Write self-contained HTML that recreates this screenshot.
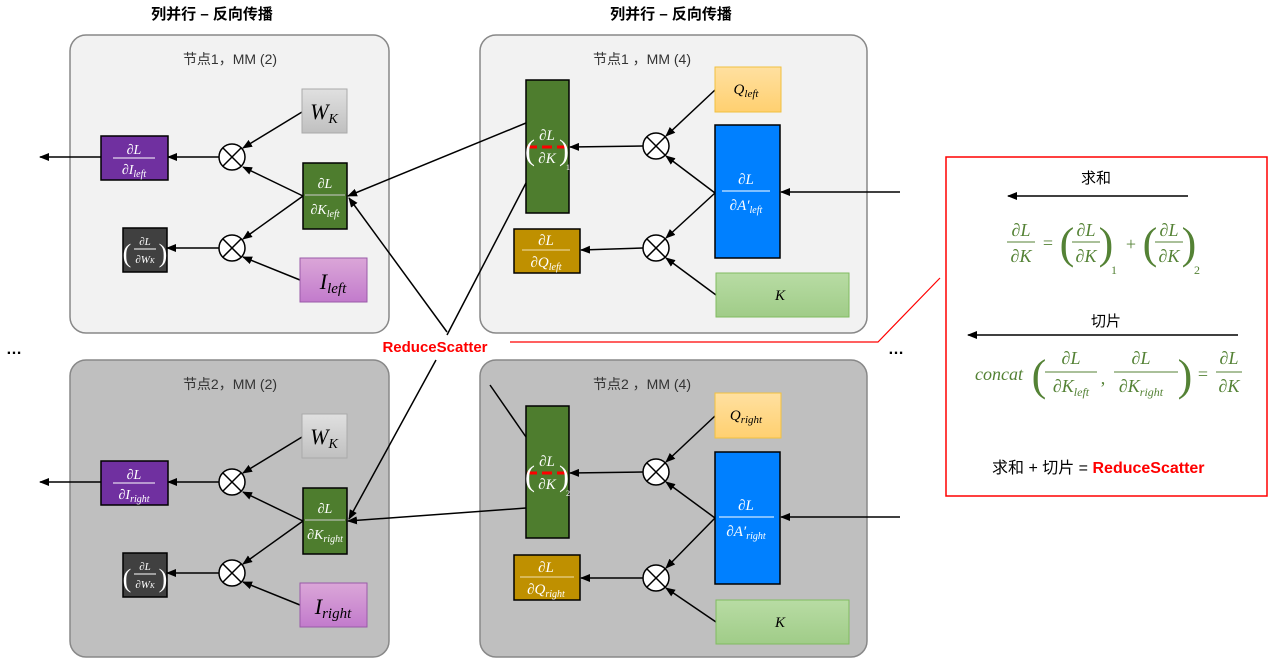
<!DOCTYPE html>
<html><head><meta charset="utf-8"><style>
body{margin:0;background:#fff}
svg{display:block}
.t{font-family:"Liberation Sans","Noto Sans CJK SC",sans-serif}
.m{font-family:"Liberation Serif",serif;font-style:italic}
</style></head><body>
<svg width="1271" height="662" viewBox="0 0 1271 662" xmlns="http://www.w3.org/2000/svg">
<defs>
<marker id="a" markerWidth="10" markerHeight="8" refX="9" refY="4" orient="auto" markerUnits="userSpaceOnUse"><path d="M0,0 L10,4 L0,8z" fill="#000"/></marker>
<linearGradient id="gw" x1="0" y1="0" x2="0" y2="1"><stop offset="0" stop-color="#e0e0e0"/><stop offset="1" stop-color="#c0c0c0"/></linearGradient>
<linearGradient id="gi" x1="0" y1="0" x2="0" y2="1"><stop offset="0" stop-color="#dba6d8"/><stop offset="1" stop-color="#c27bcc"/></linearGradient>
<linearGradient id="gq" x1="0" y1="0" x2="0" y2="1"><stop offset="0" stop-color="#ffe0a0"/><stop offset="1" stop-color="#ffd070"/></linearGradient>
<linearGradient id="gk" x1="0" y1="0" x2="0" y2="1"><stop offset="0" stop-color="#b8dca4"/><stop offset="1" stop-color="#a0cc88"/></linearGradient>
<g id="x"><circle r="13" fill="#fff" stroke="#000" stroke-width="1.5"/><path d="M-9,-9L9,9M9,-9L-9,9" stroke="#000" stroke-width="1.5"/></g>
</defs>

<text class="t" x="212" y="19" font-size="15" font-weight="bold" text-anchor="middle">列并行 – 反向传播</text>
<text class="t" x="671" y="19" font-size="15" font-weight="bold" text-anchor="middle">列并行 – 反向传播</text>

<rect x="70" y="35" width="319" height="298" rx="16" fill="#f2f2f2" stroke="#888" stroke-width="1.5"/>
<rect x="480" y="35" width="387" height="298" rx="16" fill="#f2f2f2" stroke="#888" stroke-width="1.5"/>
<rect x="70" y="360" width="319" height="297" rx="16" fill="#bfbfbf" stroke="#888" stroke-width="1.5"/>
<rect x="480" y="360" width="387" height="297" rx="16" fill="#bfbfbf" stroke="#888" stroke-width="1.5"/>
<text class="t" x="230" y="64" font-size="14" text-anchor="middle" fill="#333">节点1，MM (2)</text>
<text class="t" x="642" y="64" font-size="14" text-anchor="middle" fill="#333">节点1 ，MM (4)</text>
<text class="t" x="230" y="389" font-size="14" text-anchor="middle" fill="#333">节点2，MM (2)</text>
<text class="t" x="642" y="389" font-size="14" text-anchor="middle" fill="#333">节点2 ，MM (4)</text>

<g stroke="#000" stroke-width="1.5" fill="none">
<line x1="101" y1="157" x2="40" y2="157" marker-end="url(#a)"/>
<line x1="219" y1="157" x2="168" y2="157" marker-end="url(#a)"/>
<line x1="219" y1="248" x2="167" y2="248" marker-end="url(#a)"/>
<line x1="302" y1="112" x2="243" y2="148" marker-end="url(#a)"/>
<line x1="303" y1="196" x2="243" y2="167" marker-end="url(#a)"/>
<line x1="303" y1="196" x2="243" y2="239" marker-end="url(#a)"/>
<line x1="300" y1="280" x2="243" y2="257" marker-end="url(#a)"/>
<line x1="101" y1="482" x2="40" y2="482" marker-end="url(#a)"/>
<line x1="219" y1="482" x2="168" y2="482" marker-end="url(#a)"/>
<line x1="219" y1="573" x2="167" y2="573" marker-end="url(#a)"/>
<line x1="302" y1="437" x2="243" y2="473" marker-end="url(#a)"/>
<line x1="303" y1="521" x2="243" y2="492" marker-end="url(#a)"/>
<line x1="303" y1="521" x2="243" y2="564" marker-end="url(#a)"/>
<line x1="300" y1="605" x2="243" y2="582" marker-end="url(#a)"/>
</g>
<use href="#x" x="232" y="157"/><use href="#x" x="232" y="248"/>
<use href="#x" x="232" y="482"/><use href="#x" x="232" y="573"/>

<g stroke="#000" stroke-width="1.5">
<rect x="101" y="136" width="67" height="44" fill="#7030a0"/>
<rect x="123" y="228" width="44" height="44" fill="#404040"/>
<rect x="303" y="163" width="44" height="66" fill="#4e7d2e"/>
<rect x="101" y="461" width="67" height="44" fill="#7030a0"/>
<rect x="123" y="553" width="44" height="44" fill="#404040"/>
<rect x="303" y="488" width="44" height="66" fill="#4e7d2e"/>
</g>
<rect x="302" y="89" width="45" height="44" fill="url(#gw)" stroke="#aaa"/>
<rect x="300" y="258" width="67" height="44" fill="url(#gi)" stroke="#9a5aa8"/>
<rect x="302" y="414" width="45" height="44" fill="url(#gw)" stroke="#aaa"/>
<rect x="300" y="583" width="67" height="44" fill="url(#gi)" stroke="#9a5aa8"/>

<g class="m" fill="#fff" text-anchor="middle" font-size="14">
<text x="134" y="154">∂L</text><line x1="113" y1="158" x2="155" y2="158" stroke="#fff"/><text x="134" y="174">∂I<tspan font-size="10" dy="3">left</tspan></text>
<text x="134" y="479">∂L</text><line x1="113" y1="483" x2="155" y2="483" stroke="#fff"/><text x="134" y="499">∂I<tspan font-size="10" dy="3">right</tspan></text>
<text x="325" y="188">∂L</text><line x1="305" y1="195" x2="345" y2="195" stroke="#ccc"/><text x="325" y="214">∂K<tspan font-size="10" dy="3">left</tspan></text>
<text x="325" y="513">∂L</text><line x1="305" y1="520" x2="345" y2="520" stroke="#ccc"/><text x="325" y="539">∂K<tspan font-size="10" dy="3">right</tspan></text>
<g font-size="11"><text x="145" y="245">∂L</text><line x1="134" y1="249" x2="156" y2="249" stroke="#fff"/><text x="145" y="263">∂W<tspan font-size="7">K</tspan></text>
<text x="145" y="570">∂L</text><line x1="134" y1="574" x2="156" y2="574" stroke="#fff"/><text x="145" y="588">∂W<tspan font-size="7">K</tspan></text></g>
<text x="127" y="262" font-size="26" font-style="normal">(</text><text x="163" y="262" font-size="26" font-style="normal">)</text>
<text x="127" y="587" font-size="26" font-style="normal">(</text><text x="163" y="587" font-size="26" font-style="normal">)</text>
</g>
<g class="m" text-anchor="middle" fill="#000">
<text x="324" y="119" font-size="22">W<tspan font-size="14" dy="4">K</tspan></text>
<text x="324" y="444" font-size="22">W<tspan font-size="14" dy="4">K</tspan></text>
<text x="333" y="289" font-size="22">I<tspan font-size="15" dy="4">left</tspan></text>
<text x="333" y="614" font-size="22">I<tspan font-size="15" dy="4">right</tspan></text>
</g>

<g stroke="#000" stroke-width="1.5" fill="none">
<line x1="643" y1="146" x2="570" y2="147" marker-end="url(#a)"/>
<line x1="643" y1="248" x2="581" y2="250" marker-end="url(#a)"/>
<line x1="715" y1="90" x2="666" y2="136" marker-end="url(#a)"/>
<line x1="715" y1="193" x2="666" y2="156" marker-end="url(#a)"/>
<line x1="715" y1="193" x2="666" y2="238" marker-end="url(#a)"/>
<line x1="716" y1="295" x2="666" y2="258" marker-end="url(#a)"/>
<line x1="900" y1="192" x2="781" y2="192" marker-end="url(#a)"/>
<line x1="643" y1="472" x2="570" y2="473" marker-end="url(#a)"/>
<line x1="643" y1="578" x2="581" y2="578" marker-end="url(#a)"/>
<line x1="715" y1="416" x2="666" y2="462" marker-end="url(#a)"/>
<line x1="715" y1="518" x2="666" y2="482" marker-end="url(#a)"/>
<line x1="715" y1="518" x2="666" y2="568" marker-end="url(#a)"/>
<line x1="716" y1="622" x2="666" y2="588" marker-end="url(#a)"/>
<line x1="900" y1="517" x2="781" y2="517" marker-end="url(#a)"/>
</g>
<use href="#x" x="656" y="146"/><use href="#x" x="656" y="248"/>
<use href="#x" x="656" y="472"/><use href="#x" x="656" y="578"/>
<g stroke="#000" stroke-width="1.5">
<rect x="526" y="80" width="43" height="133" fill="#4e7d2e"/>
<rect x="514" y="229" width="66" height="44" fill="#bf9000"/>
<rect x="715" y="125" width="65" height="133" fill="#0080ff"/>
<rect x="526" y="406" width="43" height="132" fill="#4e7d2e"/>
<rect x="514" y="555" width="66" height="45" fill="#bf9000"/>
<rect x="715" y="452" width="65" height="132" fill="#0080ff"/>
</g>
<rect x="715" y="67" width="66" height="45" fill="url(#gq)" stroke="#f0c040"/>
<rect x="716" y="273" width="133" height="44" fill="url(#gk)" stroke="#80bb60"/>
<rect x="715" y="393" width="66" height="45" fill="url(#gq)" stroke="#f0c040"/>
<rect x="716" y="600" width="133" height="44" fill="url(#gk)" stroke="#80bb60"/>
<line x1="527" y1="147" x2="569" y2="147" stroke="#f00" stroke-width="3" stroke-dasharray="10,5"/>
<line x1="527" y1="473" x2="569" y2="473" stroke="#f00" stroke-width="3" stroke-dasharray="10,5"/>
<g class="m" fill="#fff" text-anchor="middle" font-size="15">
<text x="547" y="140">∂L</text><text x="547" y="163">∂K</text>
<text x="547" y="466">∂L</text><text x="547" y="489">∂K</text>
<text x="530" y="160" font-size="30" font-style="normal">(</text><text x="564" y="160" font-size="30" font-style="normal">)</text>
<text x="530" y="486" font-size="30" font-style="normal">(</text><text x="564" y="486" font-size="30" font-style="normal">)</text>
<text x="568" y="170" font-size="8" font-style="normal">1</text><text x="568" y="496" font-size="8" font-style="normal">2</text>
<text x="546" y="245">∂L</text><line x1="522" y1="250" x2="570" y2="250" stroke="#f0e0b0"/><text x="546" y="267">∂Q<tspan font-size="10" dy="3">left</tspan></text>
<text x="546" y="572">∂L</text><line x1="520" y1="577" x2="574" y2="577" stroke="#f0e0b0"/><text x="546" y="594">∂Q<tspan font-size="10" dy="3">right</tspan></text>
<text x="746" y="184">∂L</text><line x1="722" y1="191" x2="770" y2="191" stroke="#fff"/><text x="746" y="210">∂A′<tspan font-size="10" dy="3">left</tspan></text>
<text x="746" y="510">∂L</text><line x1="719" y1="517" x2="774" y2="517" stroke="#fff"/><text x="746" y="536">∂A′<tspan font-size="10" dy="3">right</tspan></text>
</g>
<g class="m" fill="#000" text-anchor="middle" font-size="15">
<text x="746" y="94">Q<tspan font-size="11" dy="3">left</tspan></text>
<text x="746" y="420">Q<tspan font-size="11" dy="3">right</tspan></text>
<text x="780" y="300">K</text><text x="780" y="627">K</text>
</g>

<g stroke="#000" stroke-width="1.5" fill="none">
<line x1="526" y1="123" x2="348" y2="196" marker-end="url(#a)"/>
<line x1="526" y1="183" x2="447" y2="335"/>
<line x1="447" y1="332" x2="349" y2="198" marker-end="url(#a)"/>
<line x1="436" y1="360" x2="349" y2="519" marker-end="url(#a)"/>
<line x1="490" y1="385" x2="526" y2="437"/>
<line x1="526" y1="508" x2="348" y2="521" marker-end="url(#a)"/>
</g>
<rect x="372" y="337" width="126" height="20" fill="#fff"/>
<text class="t" x="435" y="352" font-size="15" font-weight="bold" fill="#f00" text-anchor="middle">ReduceScatter</text>
<polyline points="510,342 878,342 940,278" fill="none" stroke="#f00" stroke-width="1.2"/>
<text class="t" x="6" y="354" font-size="16" font-weight="bold">…</text>
<text class="t" x="888" y="354" font-size="16" font-weight="bold">…</text>

<rect x="946" y="157" width="321" height="339" fill="#fff" stroke="#f00" stroke-width="1.5"/>
<text class="t" x="1096" y="183" font-size="15" text-anchor="middle">求和</text>
<line x1="1188" y1="196" x2="1008" y2="196" stroke="#000" stroke-width="1.5" marker-end="url(#a)"/>
<text class="t" x="1106" y="326" font-size="15" text-anchor="middle">切片</text>
<line x1="1238" y1="335" x2="968" y2="335" stroke="#000" stroke-width="1.5" marker-end="url(#a)"/>
<g class="m" fill="#548235" font-size="18" text-anchor="middle">
<text x="1021" y="236">∂L</text><line x1="1007" y1="242" x2="1035" y2="242" stroke="#548235"/><text x="1021" y="262">∂K</text>
<text x="1048" y="249" font-style="normal">=</text>
<text x="1067" y="258" font-size="44" font-style="normal">(</text>
<text x="1086" y="236">∂L</text><line x1="1072" y1="242" x2="1100" y2="242" stroke="#548235"/><text x="1086" y="262">∂K</text>
<text x="1106" y="258" font-size="44" font-style="normal">)</text><text x="1114" y="274" font-size="12" font-style="normal">1</text>
<text x="1131" y="250" font-style="normal">+</text>
<text x="1150" y="258" font-size="44" font-style="normal">(</text>
<text x="1169" y="236">∂L</text><line x1="1155" y1="242" x2="1183" y2="242" stroke="#548235"/><text x="1169" y="262">∂K</text>
<text x="1189" y="258" font-size="44" font-style="normal">)</text><text x="1197" y="274" font-size="12" font-style="normal">2</text>
<text x="999" y="380">concat</text>
<text x="1039" y="390" font-size="44" font-style="normal">(</text>
<text x="1071" y="364">∂L</text><line x1="1045" y1="372" x2="1097" y2="372" stroke="#548235"/><text x="1071" y="392">∂K<tspan font-size="12" dy="4">left</tspan></text>
<text x="1103" y="384" font-style="normal">,</text>
<text x="1141" y="364">∂L</text><line x1="1114" y1="372" x2="1178" y2="372" stroke="#548235"/><text x="1141" y="392">∂K<tspan font-size="12" dy="4">right</tspan></text>
<text x="1185" y="390" font-size="44" font-style="normal">)</text>
<text x="1203" y="380" font-style="normal">=</text>
<text x="1229" y="364">∂L</text><line x1="1216" y1="372" x2="1242" y2="372" stroke="#548235"/><text x="1229" y="392">∂K</text>
</g>
<text class="t" x="992" y="473" font-size="16">求和 + 切片 = <tspan fill="#f00" font-weight="bold">ReduceScatter</tspan></text>
</svg>
</body></html>
